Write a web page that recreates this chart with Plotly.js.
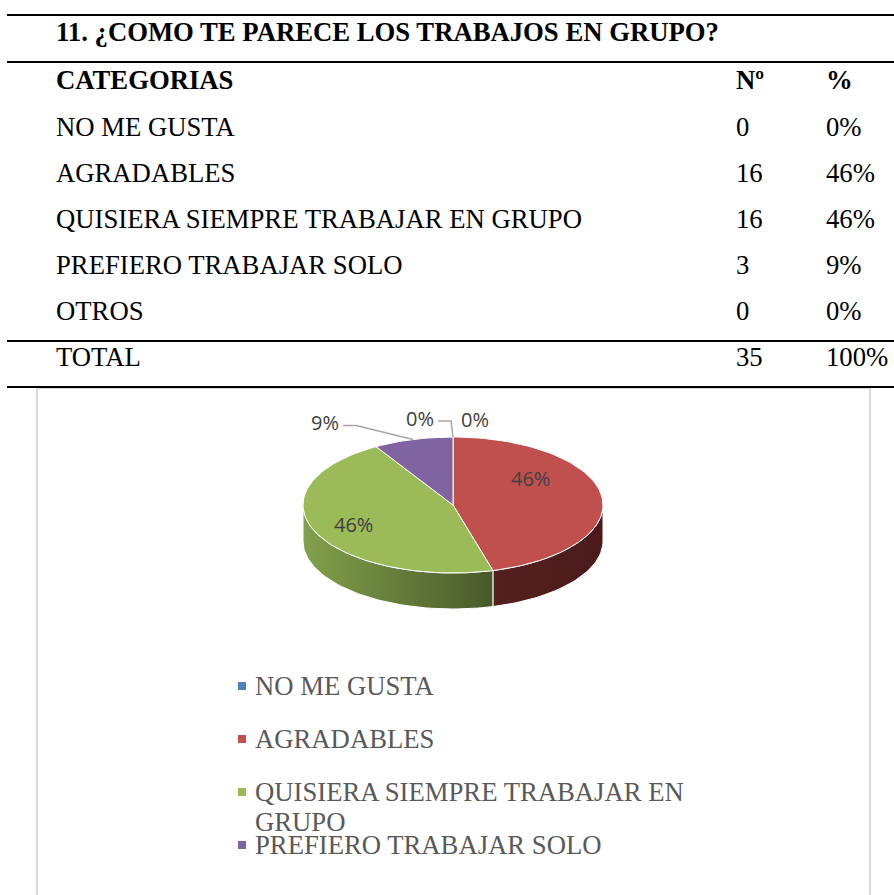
<!DOCTYPE html>
<html>
<head>
<meta charset="utf-8">
<script src="https://cdn.plot.ly/plotly-3.0.1.min.js"></script>
<style>
  html, body { margin: 0; padding: 0; background: #ffffff; }
  #chart { width: 894px; height: 895px; }
</style>
</head>
<body>
<div id="chart"></div>
<script>
// ---------------- DATA ----------------
const tableTitle = '11. ¿COMO TE PARECE LOS TRABAJOS EN GRUPO?';
const headers = ['CATEGORIAS', 'Nº', '%'];
const categories = ['NO ME GUSTA', 'AGRADABLES', 'QUISIERA SIEMPRE TRABAJAR EN GRUPO', 'PREFIERO TRABAJAR SOLO', 'OTROS'];
const counts = [0, 16, 16, 3, 0];
const percents = ['0%', '46%', '46%', '9%', '0%'];
const totalLabel = 'TOTAL';
const totalCount = 35;
const totalPercent = '100%';
const legendNames = ['NO ME GUSTA', 'AGRADABLES', 'QUISIERA SIEMPRE TRABAJAR EN<br>GRUPO', 'PREFIERO TRABAJAR SOLO'];

// ---------------- STYLE ----------------
const topColors = ['#4F81BD', '#C0504D', '#9BBB59', '#8064A2', '#4BACC6'];
const sideGradients = [
  [[0, '#2c4a6e'], [1, '#22395a']],
  [[0, '#55201f'], [1, '#481b1a']],
  [[0, '#82a14b'], [1, '#48592a']],
  [[0, '#4a3a5e'], [1, '#3c2f4d']],
  [[0, '#2d6a7a'], [1, '#245663']]
];
const serif = 'Liberation Serif, Times New Roman, serif';
const sans = 'Open Sans, sans-serif';
const textSize = 26.7;

// pie geometry (layout constants)
const cx = 453, cy = 505, rx = 150, ry = 68, depth = 36;

const W = 894, H = 895;
const total = counts.reduce((a, b) => a + b, 0);

function pt(deg, dz) {
  const r = deg * Math.PI / 180;
  return [cx + rx * Math.sin(r), cy - ry * Math.cos(r) + (dz || 0)];
}
function arc(a, b, dz) {
  const xs = [], ys = [];
  const n = Math.max(2, Math.ceil(Math.abs(b - a) / 2));
  for (let i = 0; i <= n; i++) {
    const p = pt(a + (b - a) * i / n, dz);
    xs.push(p[0]); ys.push(p[1]);
  }
  return [xs, ys];
}

// slice angles from data
const starts = [], ends = [];
let acc = 0;
counts.forEach(v => {
  starts.push(acc / total * 360);
  acc += v;
  ends.push(acc / total * 360);
});

const traces = [];
// sides (front half: 90..270 degrees)
counts.forEach((v, i) => {
  if (v <= 0) return;
  const a = Math.max(starts[i], 90), b = Math.min(ends[i], 270);
  if (b <= a) return;
  const [tx, ty] = arc(a, b, 0);
  const [bx, by] = arc(b, a, depth);
  traces.push({
    type: 'scatter', mode: 'lines',
    x: tx.concat(bx, [tx[0]]), y: ty.concat(by, [ty[0]]),
    fill: 'toself',
    fillgradient: { type: 'horizontal', colorscale: sideGradients[i] },
    line: { color: '#ffffff', width: 1 },
    hoverinfo: 'skip'
  });
});
// tops
counts.forEach((v, i) => {
  if (v <= 0) return;
  const [ax, ay] = arc(starts[i], ends[i], 0);
  traces.push({
    type: 'scatter', mode: 'lines',
    x: [cx].concat(ax, [cx]), y: [cy].concat(ay, [cy]),
    fill: 'toself', fillcolor: topColors[i],
    line: { color: '#ffffff', width: 1 },
    name: categories[i], hoverinfo: 'name'
  });
});

// data labels
const annotations = [];
const labelFrac = [0, 0.52, 0.72, 0, 0];
const labelShift = [0, 22, 0, 0, 0];
const outside = { 0: { dx: -33, dy: -19, leader: true }, 3: { dx: -88, dy: -17, leader: true }, 4: { dx: 22, dy: -18, leader: false } };
counts.forEach((v, i) => {
  const mid = (starts[i] + ends[i]) / 2;
  const txt = Math.round(v / total * 100) + '%';
  if (outside[i]) {
    const edge = pt(mid, 0);
    const o = outside[i];
    const lx = edge[0] + o.dx, ly = edge[1] + o.dy;
    annotations.push({ x: lx, y: ly, xref: 'x', yref: 'y', text: txt, showarrow: false,
      font: { family: sans, size: 20, color: '#404040' }, xanchor: 'center', yanchor: 'middle' });
    if (o.leader) {
      const sx = lx + 18;
      traces.push({ type: 'scatter', mode: 'lines', x: [sx, sx + 13, edge[0]], y: [ly + 3, ly + 3, edge[1]],
        line: { color: '#a6a6a6', width: 1.5 }, hoverinfo: 'skip' });
    }
  } else {
    const r = mid * Math.PI / 180;
    const x = cx + labelFrac[i] * rx * Math.sin(r);
    const y = cy - labelFrac[i] * ry * Math.cos(r) - labelShift[i];
    annotations.push({ x: x, y: y, xref: 'x', yref: 'y', text: txt, showarrow: false,
      font: { family: sans, size: 20, color: '#404040' }, xanchor: 'center', yanchor: 'middle' });
  }
});

// table
const colX = [54, 734, 824];
const titleY = 32, headerY = 80, rowY0 = 127, rowStep = 46, totalY = 357;
function cell(x, y, text, bold) {
  annotations.push({ x: x, y: y, xref: 'x', yref: 'y', text: bold ? '<b>' + text + '</b>' : text,
    showarrow: false, xanchor: 'left', yanchor: 'middle',
    font: { family: serif, size: textSize, color: '#000000' } });
}
cell(colX[0], titleY, tableTitle, true);
headers.forEach((h, j) => cell(colX[j], headerY, h, true));
categories.forEach((c, i) => {
  const y = rowY0 + i * rowStep;
  cell(colX[0], y, c, false);
  cell(colX[1], y, String(counts[i]), false);
  cell(colX[2], y, percents[i], false);
});
cell(colX[0], totalY, totalLabel, false);
cell(colX[1], totalY, String(totalCount), false);
cell(colX[2], totalY, totalPercent, false);

const shapes = [];
[15, 62, 341, 387].forEach(y => shapes.push({ type: 'line', xref: 'x', yref: 'y', x0: 7, x1: W, y0: y, y1: y,
  line: { color: '#000000', width: 2 } }));
shapes.push({ type: 'rect', xref: 'x', yref: 'y', x0: 37, x1: 870, y0: 388, y1: H + 20,
  line: { color: '#d9d9d9', width: 2 }, fillcolor: 'rgba(0,0,0,0)', layer: 'below' });

// legend
const legX = 242, legY0 = 686, legStep = 53, legLine = 30;
traces.push({ type: 'scatter', mode: 'markers',
  x: legendNames.map(() => legX), y: legendNames.map((n, i) => legY0 + i * legStep),
  marker: { symbol: 'square', size: 8, color: topColors.slice(0, legendNames.length), line: { width: 0 } },
  hoverinfo: 'skip' });
legendNames.forEach((n, i) => {
  n.split('<br>').forEach((line, k) => {
    annotations.push({ x: legX + 11, y: legY0 + i * legStep + k * legLine, xref: 'x', yref: 'y', text: line,
      showarrow: false, xanchor: 'left', yanchor: 'middle', align: 'left',
      font: { family: serif, size: textSize, color: '#595959' } });
  });
});

const layout = {
  width: W, height: H,
  margin: { l: 0, r: 0, t: 0, b: 0, pad: 0 },
  paper_bgcolor: '#ffffff', plot_bgcolor: '#ffffff',
  showlegend: false,
  xaxis: { range: [0, W], visible: false, fixedrange: true },
  yaxis: { range: [H, 0], visible: false, fixedrange: true },
  annotations: annotations,
  shapes: shapes
};
Plotly.newPlot('chart', traces, layout, { displayModeBar: false, staticPlot: true });
</script>
</body>
</html>
